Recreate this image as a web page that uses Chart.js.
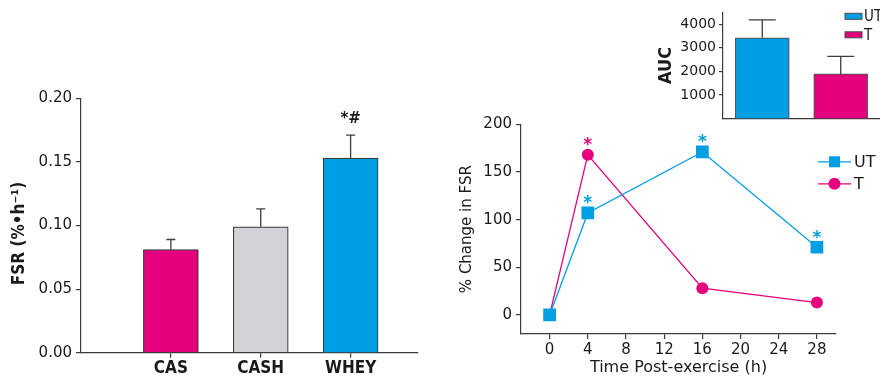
<!DOCTYPE html>
<html>
<head>
<meta charset="utf-8">
<script src="https://cdn.jsdelivr.net/npm/chart.js@4/dist/chart.umd.min.js"></script>
<style>
  body { margin: 0; background: #fff; }
  #wrap { position: relative; width: 880px; height: 378px; overflow: hidden; }
  canvas { position: absolute; }
</style>
</head>
<body>
<div id="wrap">
  <canvas id="fsr" width="430" height="298" style="left:0;top:80px"></canvas>
  <canvas id="change" width="450" height="268" style="left:430px;top:110px"></canvas>
  <canvas id="auc" width="240" height="130" style="left:640px;top:0"></canvas>
</div>
<script>
// left panel: FSR by protein
const proteinGroups = ['CAS', 'CASH', 'WHEY'];
const fsrMean = [0.081, 0.099, 0.153];
const fsrSem = [0.008, 0.014, 0.018];
const fsrMarks = ['', '', '*#'];
const fsrTicks = [0, 0.05, 0.1, 0.15, 0.2];

// right panel: % change in FSR over time
const hoursPost = [0, 4, 16, 28];
const utChange = [0, 107, 171, 71];
const tChange = [0, 168, 28, 13];
const utMarks = ['', '*', '*', '*'];
const tMarks = ['', '*', '', ''];
const hourTicks = [0, 4, 8, 12, 16, 20, 24, 28];
const changeTicks = [0, 50, 100, 150, 200];

// inset: AUC
const aucGroups = ['UT', 'T'];
const aucMean = [3420, 1890];
const aucSem = [760, 740];
const aucTicks = [1000, 2000, 3000, 4000];

const PINK = '#e5007d';
const BLUE = '#009fe3';
const GREY = '#d2d2d7';
const AXIS = '#3c3c3c';
const INK = '#1a1a1a';
const BOLD_NARROW = '"DejaVu Sans Condensed", "Liberation Sans Narrow", "DejaVu Sans"';

Chart.defaults.font.family = '"DejaVu Sans", sans-serif';
Chart.defaults.font.size = 15;
Chart.defaults.color = INK;

// error bars (upper only) + significance marks
const errorBars = {
  id: 'errorBars',
  afterDatasetsDraw(chart, args, opts) {
    const { ctx } = chart;
    const yScale = chart.scales.y;
    chart.data.datasets.forEach((ds, i) => {
      const meta = chart.getDatasetMeta(i);
      meta.data.forEach((el, j) => {
        const raw = ds.data[j];
        const val = typeof raw === 'object' ? raw.y : raw;
        let top = el.y;
        if (ds.errors) {
          top = yScale.getPixelForValue(val + ds.errors[j]);
          ctx.save();
          ctx.strokeStyle = opts.color || AXIS;
          ctx.lineWidth = opts.width || 1.3;
          ctx.beginPath();
          ctx.moveTo(el.x, el.y);
          ctx.lineTo(el.x, top);
          ctx.moveTo(el.x - opts.cap / 2, top);
          ctx.lineTo(el.x + opts.cap / 2, top);
          ctx.stroke();
          ctx.restore();
        }
        if (ds.marks && ds.marks[j]) {
          ctx.save();
          ctx.font = opts.markFont;
          ctx.fillStyle = opts.markColor || ds.borderColor;
          ctx.textAlign = 'center';
          ctx.textBaseline = 'alphabetic';
          ctx.fillText(ds.marks[j], el.x, top - opts.markGap);
          ctx.restore();
        }
      });
    });
  }
};

// line+marker legend for the time course
const lineLegend = {
  id: 'lineLegend',
  afterDraw(chart) {
    const { ctx, chartArea } = chart;
    chart.data.datasets.forEach((ds, i) => {
      const y = chartArea.top + 37.5 + i * 22;
      const x0 = chartArea.right - 18, x1 = chartArea.right + 15, xm = (x0 + x1) / 2;
      ctx.save();
      ctx.strokeStyle = ds.borderColor;
      ctx.fillStyle = ds.backgroundColor;
      ctx.lineWidth = 1.3;
      ctx.beginPath(); ctx.moveTo(x0, y); ctx.lineTo(x1, y); ctx.stroke();
      ctx.beginPath();
      if (ds.pointStyle === 'rect') ctx.rect(xm - 5.5, y - 5.5, 11, 11);
      else ctx.arc(xm, y, 6, 0, Math.PI * 2);
      ctx.fill();
      ctx.fillStyle = INK;
      ctx.font = '16px "DejaVu Sans"';
      ctx.textBaseline = 'middle';
      ctx.fillText(ds.label, x1 + 3, y + 1);
      ctx.restore();
    });
  }
};

// swatch legend for the inset
const boxLegend = {
  id: 'boxLegend',
  afterDraw(chart) {
    const { ctx, chartArea } = chart;
    const ds = chart.data.datasets[0];
    chart.data.labels.forEach((lab, i) => {
      const y = chartArea.top + 1 + i * 18.5;
      ctx.save();
      ctx.fillStyle = ds.backgroundColor[i];
      ctx.strokeStyle = '#4a4a4a';
      ctx.lineWidth = 1;
      ctx.fillRect(chartArea.right - 35, y, 17, 6);
      ctx.strokeRect(chartArea.right - 35, y, 17, 6);
      ctx.fillStyle = INK;
      ctx.font = '15px "Liberation Sans Narrow", "DejaVu Sans Condensed", "DejaVu Sans"';
      ctx.textBaseline = 'middle';
      ctx.fillText(lab, chartArea.right - 16, y + 4);
      ctx.restore();
    });
  }
};

const axisGrid = { drawOnChartArea: false, tickLength: 5, color: AXIS, lineWidth: 1.2 };
const axisBorder = { color: AXIS, width: 1.2 };

new Chart(document.getElementById('fsr'), {
  type: 'bar',
  data: {
    datasets: [{
      data: proteinGroups.map((g, i) => ({ x: i + 1, y: fsrMean[i] })),
      errors: fsrSem,
      marks: fsrMarks,
      backgroundColor: [PINK, GREY, BLUE],
      borderColor: AXIS,
      borderWidth: 1.2,
      barThickness: 55
    }]
  },
  options: {
    responsive: false,
    animation: false,
    layout: { padding: { top: 18.3, right: 12, left: 0, bottom: 0 } },
    plugins: {
      legend: { display: false },
      tooltip: { enabled: false },
      errorBars: { cap: 9, markGap: 12.5, markFont: 'bold 15px "DejaVu Sans"', markColor: INK }
    },
    scales: {
      x: {
        type: 'linear', min: 0, max: 3.75, offset: false,
        afterBuildTicks: s => { s.ticks = proteinGroups.map((g, i) => ({ value: i + 1 })); },
        afterFit: s => { s.height = 25.3; },
        grid: { ...axisGrid, offset: false },
        border: axisBorder,
        ticks: {
          callback: v => proteinGroups[v - 1],
          font: { family: BOLD_NARROW, size: 17, weight: 'bold' },
          padding: 1, maxRotation: 0, autoSkip: false
        }
      },
      y: {
        min: 0, max: 0.2,
        afterBuildTicks: s => { s.ticks = fsrTicks.map(v => ({ value: v })); },
        afterFit: s => { s.width = 81; },
        grid: axisGrid,
        border: axisBorder,
        ticks: { callback: v => v.toFixed(2), padding: 4 },
        title: {
          display: true,
          text: 'FSR (%•h⁻¹)   ',
          font: { family: BOLD_NARROW, size: 17, weight: 'bold' },
          padding: { top: 9, bottom: 0 }
        }
      }
    }
  },
  plugins: [errorBars]
});

new Chart(document.getElementById('change'), {
  type: 'line',
  data: {
    datasets: [{
      label: 'UT',
      data: hoursPost.map((h, i) => ({ x: h, y: utChange[i] })),
      marks: utMarks,
      borderColor: BLUE,
      backgroundColor: BLUE,
      borderWidth: 1.3,
      pointStyle: 'rect',
      pointRadius: 9,
      pointBorderWidth: 0
    }, {
      label: 'T',
      data: hoursPost.map((h, i) => ({ x: h, y: tChange[i] })),
      marks: tMarks,
      borderColor: PINK,
      backgroundColor: PINK,
      borderWidth: 1.3,
      pointStyle: 'circle',
      pointRadius: 6,
      pointBorderWidth: 0
    }]
  },
  options: {
    responsive: false,
    animation: false,
    layout: { padding: { top: 14.3, right: 44, left: 0, bottom: 0 } },
    plugins: {
      legend: { display: false },
      tooltip: { enabled: false },
      errorBars: { markGap: 4.5, markFont: 'bold 17px "DejaVu Sans"' }
    },
    scales: {
      x: {
        type: 'linear', min: -3, max: 30,
        afterBuildTicks: s => { s.ticks = hourTicks.map(v => ({ value: v })); },
        afterFit: s => { s.height = 44; },
        grid: axisGrid,
        border: axisBorder,
        ticks: { padding: 2, maxRotation: 0, autoSkip: false },
        title: { display: true, text: 'Time Post-exercise (h)', font: { size: 16 }, padding: { top: 0, bottom: 0.5 } }
      },
      y: {
        min: -20, max: 200,
        afterBuildTicks: s => { s.ticks = changeTicks.map(v => ({ value: v })); },
        afterFit: s => { s.width = 91; },
        grid: axisGrid,
        border: axisBorder,
        ticks: { padding: 4 },
        title: { display: true, text: '% Change in FSR', padding: { top: 28.5, bottom: 0 } }
      }
    }
  },
  plugins: [errorBars, lineLegend]
});

new Chart(document.getElementById('auc'), {
  type: 'bar',
  data: {
    labels: aucGroups,
    datasets: [{
      data: aucMean,
      errors: aucSem,
      backgroundColor: [BLUE, PINK],
      borderColor: '#555',
      borderWidth: 1.2,
      barThickness: 54
    }]
  },
  options: {
    responsive: false,
    animation: false,
    layout: { padding: { top: 12.3, right: 0, left: 0, bottom: 0 } },
    plugins: {
      legend: { display: false },
      tooltip: { enabled: false },
      errorBars: { cap: 27 }
    },
    scales: {
      x: {
        afterFit: s => { s.height = 11; },
        grid: { display: false },
        border: axisBorder,
        ticks: { display: false }
      },
      y: {
        min: 0, max: 4500,
        afterBuildTicks: s => { s.ticks = aucTicks.map(v => ({ value: v })); },
        afterFit: s => { s.width = 83; },
        grid: { ...axisGrid, tickLength: 4 },
        border: axisBorder,
        ticks: { padding: 3, font: { size: 14 }, callback: v => String(v) },
        title: {
          display: true,
          text: 'AUC',
          font: { family: BOLD_NARROW, size: 18, weight: 'bold' },
          padding: { top: 16, bottom: 0 }
        }
      }
    }
  },
  plugins: [errorBars, boxLegend]
});
</script>
</body>
</html>
